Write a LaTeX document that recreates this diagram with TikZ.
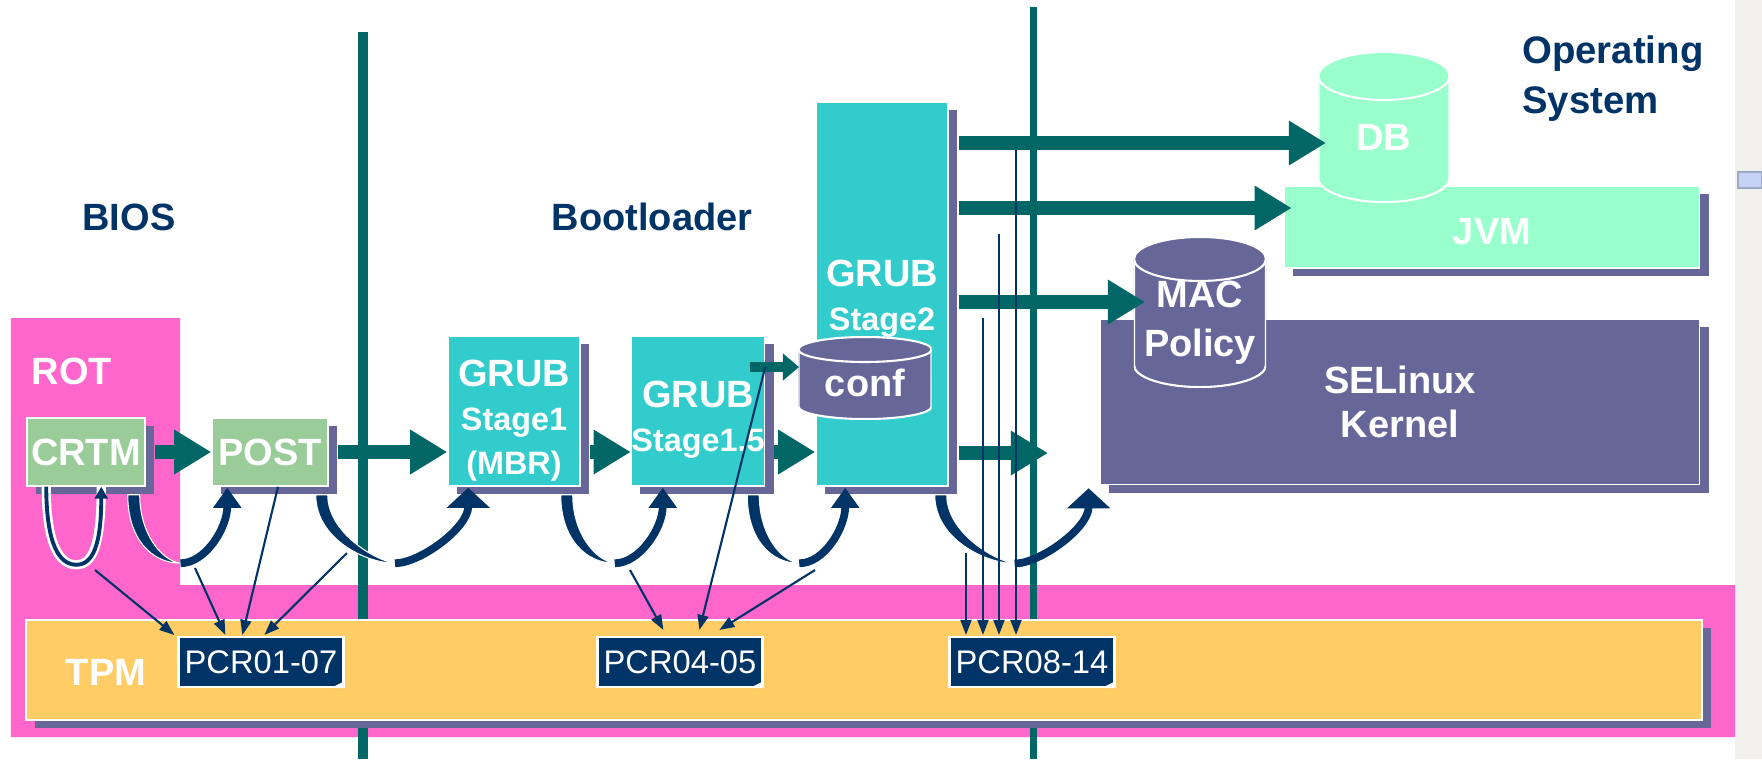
\documentclass[tikz,border=0pt]{standalone}
\usepackage{fontspec}
\setmainfont{Liberation Sans}
\usepackage{tikz}
\usetikzlibrary{arrows.meta,shadows,calc}

\definecolor{rotpink}{HTML}{FF66CC}
\definecolor{tpmorange}{HTML}{FFCC66}
\definecolor{biosgreen}{HTML}{99CC99}
\definecolor{grubcyan}{HTML}{33CCCC}
\definecolor{shadepurple}{HTML}{666699}
\definecolor{osmint}{HTML}{99FFCC}
\definecolor{flowteal}{HTML}{006666}
\definecolor{hopnavy}{HTML}{003366}
\definecolor{stripgray}{HTML}{F3F1EE}
\definecolor{scrollblue}{HTML}{C6D3F7}

\newcommand\mainfnt{\fontsize{10.8}{12.5}\selectfont\bfseries}
\newcommand\drumfnt{\fontsize{10.8}{14}\selectfont\bfseries}
\newcommand\subfnt{\fontsize{9.2}{12.5}\selectfont\bfseries}
\newcommand\osfnt{\fontsize{10.9}{14.2}\selectfont\bfseries}
\newcommand\pcrfnt{\fontsize{9.3}{11}\selectfont}
\newcommand\lift[1]{\rule{0pt}{#1}}

% cylinder drawn inside the node box: x radius, lid half-height, fill
\newcommand\drumshape[3]{%
  \filldraw[fill=#3, draw=white, line width=0.6pt]
    ($(path picture bounding box.north west)+(0,#2)$) -- ($(path picture bounding box.south west)+(0,-#2)$)
    arc[start angle=180, end angle=0, x radius=#1, y radius=#2]
    -- ($(path picture bounding box.north east)+(0,#2)$)
    arc[start angle=0, end angle=-180, x radius=#1, y radius=#2] -- cycle;
  \draw[white, line width=0.6pt] ($(path picture bounding box.north west)+(0,#2)$)
    arc[start angle=180, end angle=0, x radius=#1, y radius=#2];
}

% curved hand-over arrow: thick leg down, thin leg up into the next box
\newcommand\hop[3]{%
  \coordinate (hs) at (#1);
  \coordinate (he) at (#2);
  \coordinate (hb) at ($(hs)!.5!(he)+(0,72)$);
  \fill[hopnavy, draw=white, line width=0.3pt] ($(hs)+(-6,0)$) .. controls +(0,45) and +(-28,0) .. (hb)
    .. controls +(-20,-3) and +(0,38) .. ($(hs)+(6,0)$) -- cycle;
  \draw[hopnavy, line width=2.2pt, -{Triangle[width=#3,length=0.2cm]}] (hb) .. controls +(25,0) and +(0,40) .. (he);
}

\begin{document}
\begin{tikzpicture}[x=0.01cm, y=-0.01cm,
    box/.style={draw=white, line width=0.4pt, text=white, font=\mainfnt, align=center, inner sep=0pt,
      drop shadow={shadow xshift=0.09cm, shadow yshift=-0.08cm, fill=shadepurple, opacity=1}},
    drum/.style args={#1/#2/#3}{inner sep=0pt, text=white, font=\drumfnt, align=center,
      path picture={\drumshape{#1}{#2}{#3}}},
    pcr/.style={fill=hopnavy, draw=white, line width=0.6pt, text=white, font=\pcrfnt,
      minimum width=1.65cm, minimum height=0.5cm, inner sep=0pt},
    hdr/.style={text=hopnavy, font=\mainfnt},
    tag/.style={text=white, font=\mainfnt},
    flow/.style={draw=flowteal, line width=4pt, -{Triangle[length=0.37cm,width=0.42cm]}},
    smallflow/.style={draw=flowteal, line width=2.8pt, -{Triangle[length=0.16cm,width=0.26cm]}},
    meas/.style={draw=hopnavy, line width=0.6pt, -{Triangle[length=0.15cm,width=0.11cm]}},
    rule/.style={draw=flowteal}]
  \useasboundingbox (0,0) rectangle (1762,759);
  \fill[white] (0,0) rectangle (1762,759);
  \fill[stripgray] (1735,0) rectangle (1762,759);
  \fill[scrollblue, draw=scrollblue!80!black, line width=0.3pt] (1738,172) rectangle (1762,188);

  % root of trust and tpm band
  \fill[rotpink] (11,318) -- (180,318) -- (180,585) -- (1735,585) -- (1735,737) -- (11,737) -- cycle;
  \draw[rule, line width=0.09cm] (363,32) -- (363,759);
  \draw[rule, line width=0.07cm] (1033,7) -- (1033,759);

  \node[hdr] (bios) at (129,217) {BIOS};
  \node[hdr] (boot) at (652,217) {Bootloader};
  \node[hdr, font=\osfnt, anchor=west, align=left] (os) at (1510,79) {Operating\\System};
  \node[tag] (rot) at (72,371) {ROT};

  \node[box, fill=tpmorange, minimum width=16.75cm, minimum height=1cm] (tpm) at (864,670) {};
  \node[tag] (tpmlabel) at (106,672) {TPM};
  \node[pcr] (pcr1) at (261,662) {PCR01-07};
  \node[pcr] (pcr2) at (680,662) {PCR04-05};
  \node[pcr] (pcr3) at (1032,662) {PCR08-14};
  \foreach \p in {pcr1,pcr2,pcr3}
    \fill[white] ($(\p.south east)+(-14,0)$) -- ($(\p.south east)+(0,-7)$) -- (\p.south east) -- cycle;

  \node[box, fill=biosgreen, minimum width=1.18cm, minimum height=0.68cm] (crtm) at (86,452) {CRTM};
  \node[box, fill=biosgreen, minimum width=1.16cm, minimum height=0.68cm] (post) at (270,452) {POST};
  \node[box, fill=grubcyan, minimum width=1.32cm, minimum height=1.5cm] (mbr) at (514,411)
    {\lift{12.8pt}GRUB\\{\subfnt Stage1}\\{\subfnt (MBR)}};
  \node[box, fill=grubcyan, minimum width=1.32cm, minimum height=1.5cm] (s15) at (698,411)
    {\lift{12.3pt}GRUB\\{\subfnt Stage1.5}};
  \node[box, fill=grubcyan, minimum width=1.32cm, minimum height=3.84cm] (s2) at (882,294)
    {\lift{10.4pt}GRUB\\{\subfnt Stage2}};
  \node[drum=66.5/12.5/shadepurple, minimum width=1.33cm, minimum height=0.82cm] (conf) at (865,378)
    {\lift{10.4pt}conf};

  \node[box, fill=osmint, minimum width=4.15cm, minimum height=0.82cm] (jvm) at (1492,227) {\lift{9.8pt}JVM};
  \node[drum=65.5/24/osmint, minimum width=1.31cm, minimum height=1.5cm] (db) at (1384,127) {\lift{13.5pt}DB};
  \node[box, fill=shadepurple, minimum width=5.99cm, minimum height=1.65cm] (kern) at (1400,402) {SELinux\\Kernel};
  \node[drum=66/22/shadepurple, minimum width=1.32cm, minimum height=1.5cm] (mac) at (1200,312)
    {\lift{13.5pt}MAC\\Policy};

  % load chain
  \draw[flow] ([xshift=0.09cm]crtm.east) -- (post.west);
  \draw[flow] ([xshift=0.09cm]post.east) -- (post.east -| mbr.west);
  \draw[flow] ($(mbr.east |- post.east)+(9,0)$) -- (s15.west |- post.east);
  \draw[flow] ($(s15.east |- post.east)+(9,0)$) -- (s2.west |- post.east);
  \coordinate (out) at (1048,453);
  \draw[flow] ($(s2.east |- out)+(10,0)$) -- (out);
  \coordinate (dbin) at ($(db.center)+(-58,16)$);
  \coordinate (jvmin) at ($(jvm.west)+(8,-19)$);
  \coordinate (macin) at ($(mac.center)+(-55,-10)$);
  \draw[flow] ($(s2.east |- dbin)+(10,0)$) -- (dbin);
  \draw[flow] ($(s2.east |- jvmin)+(10,0)$) -- (jvmin);
  \draw[flow] ($(s2.east |- macin)+(10,0)$) -- (macin);
  \coordinate (cin) at ($(conf.center)+(-66,-11)$);
  \draw[smallflow] ($(s15.east |- cin)+(-15,0)$) -- (cin);

  % hand-over of control
  \draw[white, line width=2.6pt] ($(crtm.south west)+(20,0)$) .. controls +(0,60) and +(-16,0) .. ($(crtm.south west)+(50,78)$)
    .. controls +(16,0) and +(0,60) .. ($(crtm.south west)+(75,0)$);
  \draw[hopnavy, line width=1.1pt, -{Triangle[width=0.13cm,length=0.12cm]}] ($(crtm.south west)+(20,0)$)
    .. controls +(0,60) and +(-16,0) .. ($(crtm.south west)+(50,78)$)
    .. controls +(16,0) and +(0,60) .. ($(crtm.south west)+(75,0)$);
  \hop{$(crtm.south east)+(-12,8)$}{$(post.south west)+(16,1)$}{0.27cm}
  \hop{$(post.south east)+(-7,8)$}{$(mbr.south west)+(21,1)$}{0.42cm}
  \hop{$(mbr.south east)+(-14,8)$}{$(s15.south west)+(32,1)$}{0.27cm}
  \hop{$(s15.south east)+(-12,8)$}{$(s2.south west)+(30,1)$}{0.27cm}
  \hop{$(s2.south east)+(-8,8)$}{$(kern.south west)+(-11,3)$}{0.42cm}

  % measurements into the pcrs
  \coordinate (m1) at (95,570);
  \coordinate (m2) at (195,568);
  \coordinate (m3) at (347,553);
  \draw[meas] (m1) -- ($(pcr1.north west)+(-3,-1)$);
  \draw[meas] (m2) -- ($(pcr1.north west)+(48,-1)$);
  \draw[meas] ($(post.south)+(8,0)$) -- ($(pcr1.north west)+(65,-1)$);
  \draw[meas] (m3) -- ($(pcr1.north west)+(87,-1)$);
  \coordinate (m4) at (630,570);
  \coordinate (m5) at (815,570);
  \draw[meas] (m4) -- ($(pcr2.north west)+(67,-6)$);
  \draw[meas] (s15.east |- cin) -- ($(pcr2.north west)+(103,-6)$);
  \draw[meas] (m5) -- ($(pcr2.north west)+(123,-6)$);
  \coordinate (m6) at (966,553);
  \coordinate (m7) at (983,318);
  \coordinate (m8) at (999,234);
  \coordinate (m9) at (1016,150);
  \foreach \m in {m6,m7,m8,m9}
    \draw[meas] (\m) -- ($(\m |- pcr3.north)+(0,-1)$);
\end{tikzpicture}
\end{document}
